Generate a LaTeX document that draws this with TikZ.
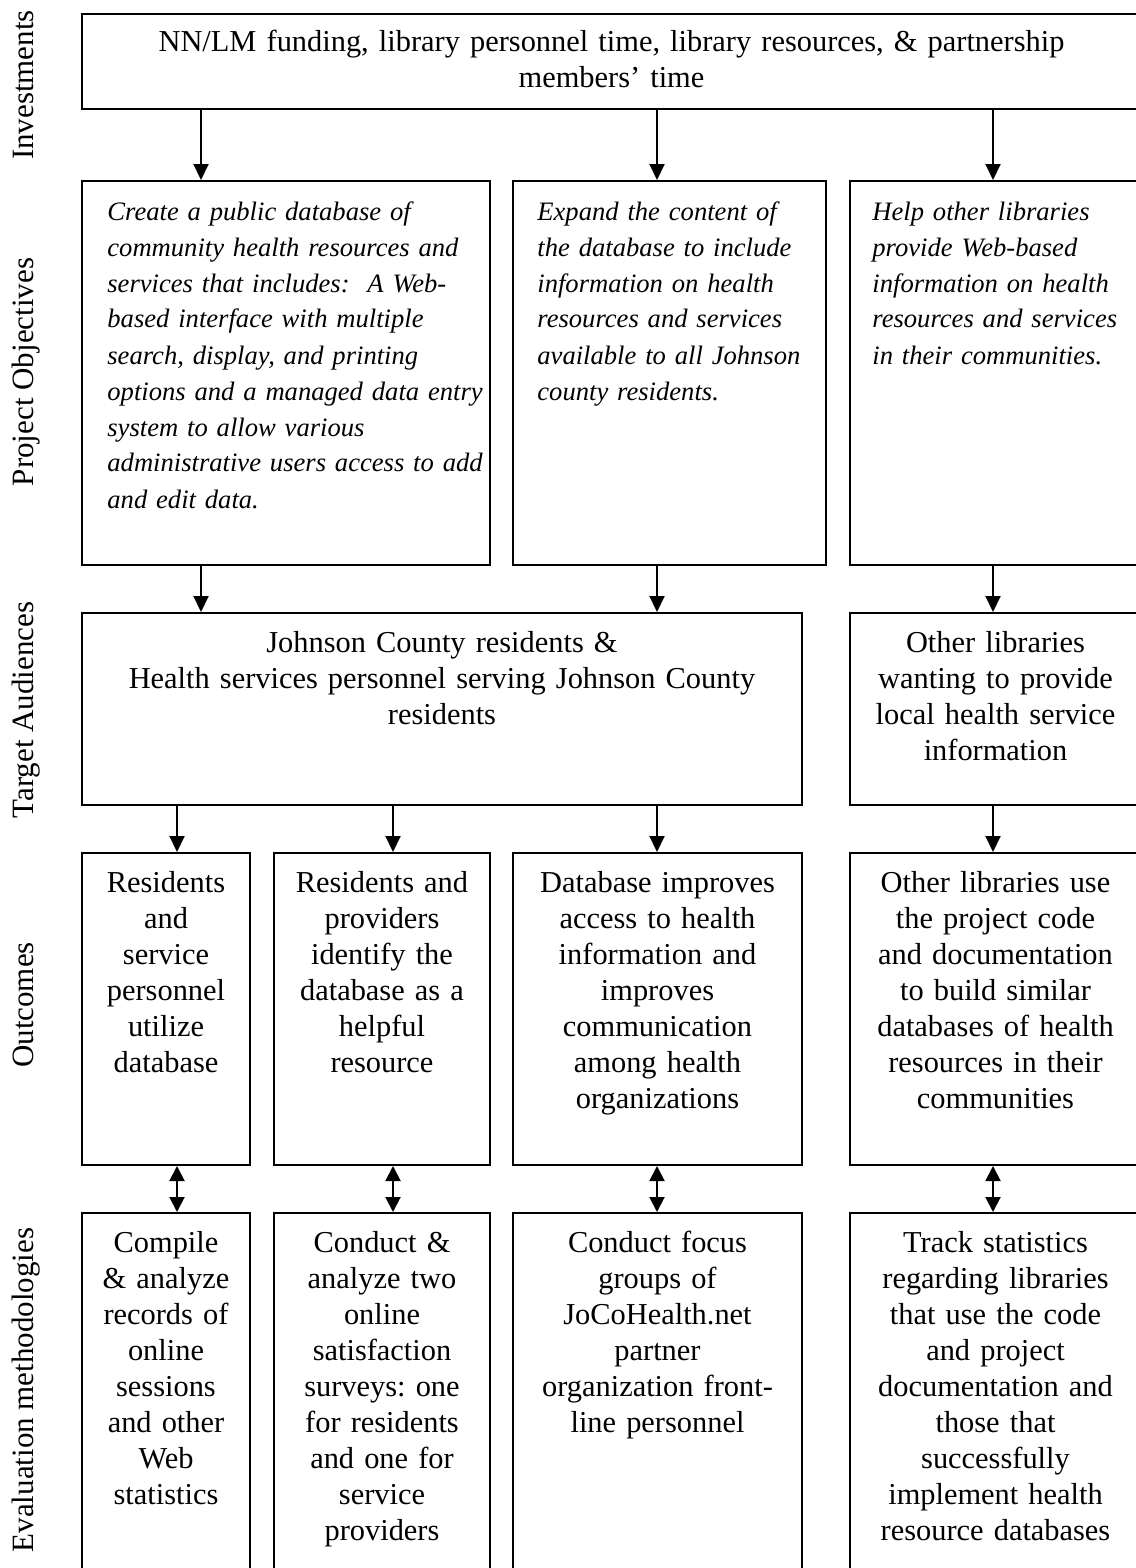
\documentclass[tikz,border=0pt]{standalone}
\usepackage{fontspec}
\setmainfont{Liberation Serif}
\usetikzlibrary{arrows.meta,positioning}
\frenchspacing

\begin{document}
\begin{tikzpicture}[x=0.5pt,y=-0.5pt,
    box/.style={draw, line width=1pt, inner sep=0pt, anchor=north west},
    txt/.style={align=center, anchor=base, inner sep=0pt, font=\fontsize{15.2pt}{18pt}\selectfont},
    itxt/.style={align=left, anchor=base west, inner sep=0pt, font=\fontsize{13.3pt}{18pt}\selectfont\itshape},
    lbl/.style={rotate=90, anchor=base, inner sep=0pt, font=\fontsize{15.5pt}{18pt}\selectfont},
    arr/.style={line width=1pt, -{Triangle[length=8pt,width=7.5pt]}},
    darr/.style={line width=1pt, {Triangle[length=7.5pt,width=7.5pt]}-{Triangle[length=7.5pt,width=7.5pt]}}]
    \useasboundingbox (0,0) rectangle (1135,1568);

    % row labels
    \node[lbl] (lInv) at (33,85) {Investments};
    \node[lbl] (lObj) at (33,372) {Project Objectives};
    \node[lbl] (lAud) at (33,710) {Target Audiences};
    \node[lbl] (lOut) at (33,1005) {Outcomes};
    \node[lbl] (lEval) at (33,1390) {Evaluation methodologies};

    % boxes
    \node[box, minimum width=529.5pt, minimum height=47.5pt] (inv) at (81,13) {};
    \node[box, minimum width=204pt, minimum height=192pt] (obj1) at (81,180) {};
    \node[box, minimum width=156.5pt, minimum height=192pt] (obj2) at (512,180) {};
    \node[box, minimum width=145.5pt, minimum height=192pt] (obj3) at (849,180) {};
    \node[box, minimum width=360pt, minimum height=96pt] (aud1) at (81,612) {};
    \node[box, minimum width=145.5pt, minimum height=96pt] (aud2) at (849,612) {};
    \node[box, minimum width=84pt, minimum height=156pt] (out1) at (81,852) {};
    \node[box, minimum width=108pt, minimum height=156pt] (out2) at (273,852) {};
    \node[box, minimum width=144.5pt, minimum height=156pt] (out3) at (512,852) {};
    \node[box, minimum width=145.5pt, minimum height=156pt] (out4) at (849,852) {};
    \node[box, minimum width=84pt, minimum height=181.5pt] (ev1) at (81,1212) {};
    \node[box, minimum width=108pt, minimum height=181.5pt] (ev2) at (273,1212) {};
    \node[box, minimum width=144.5pt, minimum height=181.5pt] (ev3) at (512,1212) {};
    \node[box, minimum width=145.5pt, minimum height=181.5pt] (ev4) at (849,1212) {};

    % texts
    \node[txt, text width=520pt] (tInv) at ([yshift=-19.5pt]inv.north) {NN/LM funding, library personnel time, library resources, \& partnership\\members' time};
    \node[itxt, text width=200pt] (tObj1) at ([xshift=13pt,yshift=-20pt]obj1.north west) {Create a public database of\\community health resources and\\services that includes:\ \ A Web-\\based interface with multiple\\search, display, and printing\\options and a managed data entry\\system to allow various\\administrative users access to add\\and edit data.};
    \node[itxt, text width=150pt] (tObj2) at ([xshift=12.5pt,yshift=-20pt]obj2.north west) {Expand the content of\\the database to include\\information on health\\resources and services\\available to all Johnson\\county residents.};
    \node[itxt, text width=140pt] (tObj3) at ([xshift=11.5pt,yshift=-20pt]obj3.north west) {Help other libraries\\provide Web-based\\information on health\\resources and services\\in their communities.};
    \node[txt, text width=360pt] (tAud1) at ([yshift=-20pt]aud1.north) {Johnson County residents \&\\Health services personnel serving Johnson County\\residents};
    \node[txt, text width=145pt] (tAud2) at ([yshift=-20pt]aud2.north) {Other libraries\\wanting to provide\\local health service\\information};
    \node[txt, text width=84pt] (tOut1) at ([yshift=-20pt]out1.north) {Residents\\and\\service\\personnel\\utilize\\database};
    \node[txt, text width=108pt] (tOut2) at ([yshift=-20pt]out2.north) {Residents and\\providers\\identify the\\database as a\\helpful\\resource};
    \node[txt, text width=144pt] (tOut3) at ([yshift=-20pt]out3.north) {Database improves\\access to health\\information and\\improves\\communication\\among health\\organizations};
    \node[txt, text width=145pt] (tOut4) at ([yshift=-20pt]out4.north) {Other libraries use\\the project code\\and documentation\\to build similar\\databases of health\\resources in their\\communities};
    \node[txt, text width=84pt] (tEv1) at ([yshift=-20pt]ev1.north) {Compile\\\& analyze\\records of\\online\\sessions\\and other\\Web\\statistics};
    \node[txt, text width=108pt] (tEv2) at ([yshift=-20pt]ev2.north) {Conduct \&\\analyze two\\online\\satisfaction\\surveys: one\\for residents\\and one for\\service\\providers};
    \node[txt, text width=144pt] (tEv3) at ([yshift=-20pt]ev3.north) {Conduct focus\\groups of\\JoCoHealth.net\\partner\\organization front-\\line personnel};
    \node[txt, text width=145pt] (tEv4) at ([yshift=-20pt]ev4.north) {Track statistics\\regarding libraries\\that use the code\\and project\\documentation and\\those that\\successfully\\implement health\\resource databases};

    % arrow columns
    \coordinate (xa) at (201,0);
    \coordinate (xb) at (657,0);
    \coordinate (xc) at (993,0);
    \coordinate (xd) at (177,0);
    \coordinate (xe) at (393,0);

    \draw[arr] (inv.south -| xa) -- (obj1.north -| xa);
    \draw[arr] (inv.south -| xb) -- (obj2.north -| xb);
    \draw[arr] (inv.south -| xc) -- (obj3.north -| xc);

    \draw[arr] (obj1.south -| xa) -- (aud1.north -| xa);
    \draw[arr] (obj2.south -| xb) -- (aud1.north -| xb);
    \draw[arr] (obj3.south -| xc) -- (aud2.north -| xc);

    \draw[arr] (aud1.south -| xd) -- (out1.north -| xd);
    \draw[arr] (aud1.south -| xe) -- (out2.north -| xe);
    \draw[arr] (aud1.south -| xb) -- (out3.north -| xb);
    \draw[arr] (aud2.south -| xc) -- (out4.north -| xc);

    \draw[darr] (out1.south -| xd) -- (ev1.north -| xd);
    \draw[darr] (out2.south -| xe) -- (ev2.north -| xe);
    \draw[darr] (out3.south -| xb) -- (ev3.north -| xb);
    \draw[darr] (out4.south -| xc) -- (ev4.north -| xc);
\end{tikzpicture}
\end{document}
